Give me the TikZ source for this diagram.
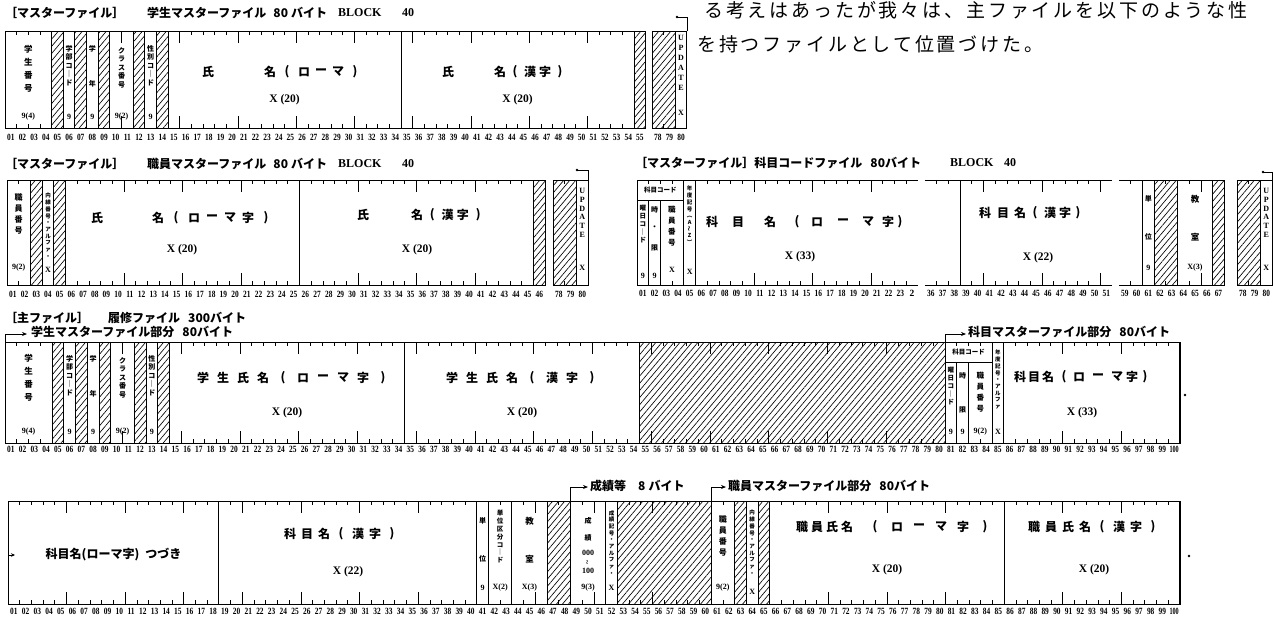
\documentclass[tikz,border=0pt]{standalone}
\usepackage{fontspec}
\setmainfont{Liberation Serif}
\newfontfamily\jp{Noto Sans CJK JP}
\usetikzlibrary{patterns.meta,arrows.meta}
\newcounter{nd}
\newcommand\lp{(}
\newcommand\rp{)}
\newcommand\segbegin[4]{\pgfmathsetmacro\sx{#1-(#2-1)*#3}\begin{scope}[shift={(\sx pt,-#4 pt)},x=#3pt,y=-1pt]}
\newcommand\segend{\end{scope}}
\newcommand\tks[2]{%
  \pgfmathtruncatemacro\tka{#1}%
  \pgfmathtruncatemacro\tkb{#2-1}%
  \ifnum\tkb<\tka\relax\else
    \foreach \bb in {\tka,...,\tkb}{%
      \pgfmathsetmacro\tklen{mod(\bb,5)==0?12:4}%
      \draw[tk] (\bb,0) -- (\bb,\tklen) (\bb,\RH) -- (\bb,{\RH-\tklen});}%
  \fi}
\newcommand\fld[2]{\draw[bx] ({#1-1},0) rectangle (#2,\RH);\tks{#1}{#2}}
\newcommand\hfld[2]{\fill[hat] ({#1-1},0) rectangle (#2,\RH);\draw[bx] ({#1-1},0) rectangle (#2,\RH);\tks{#1}{#2}}
\newcommand\nums[3]{\foreach \cc in {#1,...,#2}{\stepcounter{nd}\node[num] (m\arabic{nd}) at ({\cc-0.5},#3) {\scalebox{0.78}[1]{\ifnum\cc<10 0\fi\cc}};}}
\newcommand\spc[5]{\foreach \ch [count=\i from 0] in {#5}{\node[lb] (#1-\i) at ({#2+\i*#4},#3) {\ch};}}
\newcommand\spx[3]{\foreach \xx/\ch [count=\i] in {#3}{\node[lb] (#1-\i) at (\xx,#2) {\ch};}}
\begin{document}
\begin{tikzpicture}[x=1pt,y=-1pt,
  bx/.style={line width=1pt},
  tk/.style={line width=0.8pt},
  cn/.style={line width=0.9pt},
  hat/.style={pattern={Lines[angle=50,distance=4.6pt,line width=0.65pt]}},
  num/.style={inner sep=0pt,font=\bfseries\fontsize{9.5}{9.5}\selectfont},
  lb/.style={inner sep=0pt,font=\jp\bfseries\fontsize{12}{12}\selectfont},
  vm/.style={inner sep=0pt,anchor=north,align=center,font=\jp\bfseries\fontsize{8.5}{13}\selectfont},
  vs/.style={inner sep=0pt,anchor=north,align=center,font=\jp\bfseries\fontsize{7}{8.5}\selectfont},
  vx/.style={inner sep=0pt,anchor=north,align=center,font=\jp\bfseries\fontsize{5.5}{6.7}\selectfont},
  vu/.style={inner sep=0pt,anchor=north,align=center,font=\bfseries\fontsize{8}{10}\selectfont},
  ty/.style={inner sep=0pt,font=\bfseries\fontsize{8}{8}\selectfont},
  xt/.style={inner sep=0pt,font=\bfseries\fontsize{11.5}{12}\selectfont},
  ttl/.style={inner sep=0pt,anchor=west,font=\jp\bfseries\fontsize{12}{13}\selectfont},
  bt/.style={inner sep=0pt,font=\bfseries\fontsize{12}{12}\selectfont},
  para/.style={inner sep=0pt,anchor=west,font=\jp\fontsize{19}{19}\selectfont\addfontfeature{LetterSpace=15}},
  hd/.style={inner sep=0pt,font=\jp\bfseries\fontsize{6.5}{7}\selectfont},
  ar/.style={cn,-{Stealth[length=5pt,width=4pt]}}
]
\fill[white] (0,0) rectangle (1273,616);
\useasboundingbox (0,0) rectangle (1273,616);

% ---------- top right paragraph ----------
\node[para] (p1) at (704,10.5) {る考えはあったが我々は、主ファイルを以下のような性};
\node[para] (p2) at (697,44) {を持つファイルとして位置づけた。};

% ---------- titles ----------
\node[ttl] (t1a) at (5,13) {［マスターファイル］};
\node[ttl] (t1b) at (147,13) {学生マスターファイル\hspace{7pt}80\hspace{3pt}バイト};
\node[bt,anchor=west] (t1c) at (338,13) {BLOCK};
\node[bt] (t1d) at (408,13) {40};
\node[ttl] (t2a) at (5,164) {［マスターファイル］};
\node[ttl] (t2b) at (147,164) {職員マスターファイル\hspace{7pt}80\hspace{3pt}バイト};
\node[bt,anchor=west] (t2c) at (338,164) {BLOCK};
\node[bt] (t2d) at (408,164) {40};
\node[ttl] (t3a) at (635,163) {［マスターファイル］科目コードファイル\hspace{8pt}80バイト};
\node[bt,anchor=west] (t3c) at (950,163) {BLOCK};
\node[bt] (t3d) at (1010,163) {40};
\node[ttl] (t4a) at (5,318) {［主ファイル］};
\node[ttl] (t4b) at (108,318) {履修ファイル\hspace{8pt}300バイト};
\node[ttl] (t4c) at (31,332) {学生マスターファイル部分\hspace{8pt}80バイト};
\node[ttl] (t4d) at (968,332) {科目マスターファイル部分\hspace{8pt}80バイト};
\node[ttl] (t5a) at (590,486) {成績等\hspace{12pt}8\hspace{3pt}バイト};
\node[ttl] (t5b) at (728,486) {職員マスターファイル部分\hspace{8pt}80バイト};

% ================= ROW 1 =================
\def\RH{97}
\segbegin{5}{1}{11.65}{31}
 \fld{1}{4}\hfld{5}{5}\fld{6}{6}\hfld{7}{7}\fld{8}{8}\hfld{9}{9}\fld{10}{11}\hfld{12}{12}\fld{13}{13}\hfld{14}{14}
 \fld{15}{34}\fld{35}{54}\hfld{55}{55}
 \nums{1}{55}{106}
\segend
\segbegin{652}{78}{11.65}{31}
 \hfld{78}{79}\fld{80}{80}
 \nums{78}{80}{106}
\segend
\node[vm] (r1n1) at (28.3,45) {学\\生\\番\\号};
\node[ty] (r1t1) at (28.3,117) {9(4)};
\node[vs] (r1n2) at (69.1,45) {学\\部\\コ\\｜\\ド};
\node[ty] (r1t2) at (69.1,117) {9};
\node[vs] (r1n3) at (92.4,45) {学};
\node[vs] (r1n3b) at (92.4,80) {年};
\node[ty] (r1t3) at (92.4,117) {9};
\node[vs] (r1n4) at (121.5,47) {ク\\ラ\\ス\\番\\号};
\node[ty] (r1t4) at (121.5,117) {9(2)};
\node[vs] (r1n5) at (150.6,45) {性\\別\\コ\\｜\\ド};
\node[ty] (r1t5) at (150.6,117) {9};
\node[lb] (r1n6) at (208,72) {氏};
\spc{r1n7}{270}{72}{17}{名,\lp,ロ,ー,マ,\rp}
\node[xt] (r1x1) at (284.6,100) {X (20)};
\node[lb] (r1n8) at (448,72) {氏};
\spc{r1n9}{500}{72}{15}{名,\lp,漢,字,\rp}
\node[xt] (r1x2) at (517.6,100) {X (20)};
\node[vu] (r1u) at (681.1,35) {U\\P\\D\\A\\T\\E};
\node[ty] (r1ux) at (681.1,113) {X};
\coordinate (r1b0) at (686.95,31);
\coordinate (r1b1) at (677,17);
\draw[cn] (r1b0) |- (r1b1);
\fill (r1b1) circle (1.4);

% ================= ROW 2 left =================
\def\RH{105}
\segbegin{7}{1}{11.7}{180}
 \fld{1}{2}\hfld{3}{3}\fld{4}{4}\hfld{5}{5}\fld{6}{25}\fld{26}{45}\hfld{46}{46}
 \nums{1}{46}{114}
\segend
\segbegin{553}{78}{11.7}{180}
 \hfld{78}{79}\fld{80}{80}
 \nums{78}{80}{114}
\segend
\node[vm,font=\jp\bfseries\fontsize{8}{11}\selectfont] (r2n1) at (18.7,193) {職\\員\\番\\号};
\node[ty] (r2t1) at (18.7,268) {9(2)};
\node[vx] (r2n2) at (48,193) {内\\線\\番\\号\\・\\ア\\ル\\フ\\ァ\\・};
\node[ty] (r2t2) at (48,270) {X};
\node[lb] (r2n3) at (97,218) {氏};
\spc{r2n4}{158}{218}{18}{名,\lp,ロ,ー,マ,字,\rp}
\node[xt] (r2x1) at (182,250) {X (20)};
\node[lb] (r2n5) at (363,215) {氏};
\spc{r2n6}{417}{215}{15.3}{名,\lp,漢,字,\rp}
\node[xt] (r2x2) at (417,250) {X (20)};
\node[vu,font=\bfseries\fontsize{8}{8.8}\selectfont] (r2u) at (582.25,188) {U\\P\\D\\A\\T\\E};
\node[ty] (r2ux) at (582.25,268) {X};
\coordinate (r2b0) at (588.1,180);
\coordinate (r2b1) at (577,170);
\draw[cn] (r2b0) |- (r2b1);
\fill (r2b1) circle (1.4);

% ================= ROW 2 right =================
\segbegin{637}{1}{11.7}{180}
 \draw[bx] (0,0) rectangle (4,\RH);
 \draw[bx] (0,20) -- (4,20) (1,20) -- (1,\RH) (2,20) -- (2,\RH);
 \tks{1}{4}
 \fld{5}{5}
 \draw[bx] (24,0) -- (5,0) -- (5,\RH) -- (24,\RH);
 \tks{6}{24}
 \nums{1}{23}{113}
 \node[num] (m24r) at (23.5,113) {2};
\segend
\segbegin{925}{36}{11.7}{180}
 \draw[bx] (35,0) -- (38,0) -- (38,\RH) -- (35,\RH);
 \tks{36}{38}
 \draw[bx] (51,0) -- (38,0) (38,\RH) -- (51,\RH);
 \tks{39}{51}
 \nums{36}{51}{113}
\segend
\segbegin{1119}{59}{11.7}{180}
 \draw[bx] (58,0) -- (60,0) -- (60,\RH) -- (58,\RH);
 \tks{59}{60}
 \fld{61}{61}\hfld{62}{63}\fld{64}{66}\hfld{67}{67}
 \nums{59}{67}{113}
\segend
\segbegin{1237}{78}{11.7}{180}
 \hfld{78}{79}\fld{80}{80}
 \nums{78}{80}{113}
\segend
\node[hd] (r2k0) at (660.4,190) {科目コード};
\node[vx,font=\jp\bfseries\fontsize{6.5}{8}\selectfont] (r2k1) at (642.85,205) {曜\\日\\コ\\｜\\ド};
\node[ty] (r2k1t) at (642.85,276) {9};
\node[vs] (r2k2) at (654.55,206) {時};
\node[vs] (r2k2b) at (654.55,226) {・};
\node[vs] (r2k2c) at (654.55,245) {限};
\node[ty] (r2k2t) at (654.55,276) {9};
\node[vm,font=\jp\bfseries\fontsize{7.5}{11}\selectfont] (r2k3) at (671.9,206) {職\\員\\番\\号};
\node[ty] (r2k3t) at (671.9,270) {X};
\node[vx] (r2k4) at (689.65,186) {年\\度\\記\\号\\︵\\A\\\rotatebox{90}{～}\\Z\\︶};
\node[ty] (r2k4t) at (689.65,272) {X};
\spx{r2k5}{222}{712/科,738/目,770/名,797/\lp,817/ロ,843/ー,868/マ,888/字,900/\rp}
\node[xt] (r2k5x) at (800,257) {X (33)};
\spx{r2k6}{213}{985/科,1003/目,1020/名,1035/\lp,1050/漢,1065/字,1078/\rp}
\node[xt] (r2k6x) at (1038,258) {X (22)};
\node[vs] (r2k7) at (1148.25,195) {単};
\node[vs] (r2k7b) at (1148.25,233) {位};
\node[ty] (r2k7t) at (1148.25,268) {9};
\node[vm] (r2k8) at (1195,195) {教};
\node[vm] (r2k8b) at (1195,233) {室};
\node[ty] (r2k8t) at (1195,268) {X(3)};
\node[vu,font=\bfseries\fontsize{8}{8.8}\selectfont] (r2ku) at (1266.25,188) {U\\P\\D\\A\\T\\E};
\node[ty] (r2kux) at (1266.25,268) {X};
\coordinate (r2c0) at (1272.1,180);
\coordinate (r2c1) at (1263,172);
\draw[cn] (r2c0) |- (r2c1);
\fill (r2c1) circle (1.4);

% ================= ROW 3 =================
\def\RH{101}
\segbegin{5}{1}{11.75}{342}
 \fld{1}{4}\hfld{5}{5}\fld{6}{6}\hfld{7}{7}\fld{8}{8}\hfld{9}{9}\fld{10}{11}\hfld{12}{12}\fld{13}{13}\hfld{14}{14}
 \fld{15}{34}\fld{35}{54}\hfld{55}{80}
 \draw[bx] (80,0) rectangle (84,\RH);
 \draw[bx] (80,20) -- (84,20) (81,20) -- (81,\RH) (82,20) -- (82,\RH);
 \tks{81}{84}
 \fld{85}{85}\fld{86}{100}
 \draw[line width=1.8pt] (100,0) -- (100,\RH);
 \nums{1}{99}{107}
 \node[num] (m100a) at (99.5,107) {\scalebox{0.65}[1]{100}};
\segend
\node[vm] (r3n1) at (28.5,354) {学\\生\\番\\号};
\node[ty] (r3t1) at (28.5,432) {9(4)};
\node[vs] (r3n2) at (69.6,355) {学\\部\\コ\\｜\\ド};
\node[ty] (r3t2) at (69.6,432) {9};
\node[vs] (r3n3) at (93.1,355) {学};
\node[vs] (r3n3b) at (93.1,390) {年};
\node[ty] (r3t3) at (93.1,432) {9};
\node[vs] (r3n4) at (122.5,357) {ク\\ラ\\ス\\番\\号};
\node[ty] (r3t4) at (122.5,432) {9(2)};
\node[vs] (r3n5) at (151.9,355) {性\\別\\コ\\｜\\ド};
\node[ty] (r3t5) at (151.9,432) {9};
\spc{r3n6}{203}{378}{20}{学,生,氏,名,\lp,ロ,ー,マ,字,\rp}
\node[xt] (r3x1) at (287,413) {X (20)};
\spc{r3n7}{452}{378}{20}{学,生,氏,名,\lp,漢,字,\rp}
\node[xt] (r3x2) at (522,413) {X (20)};
\node[hd] (r3k0) at (968.5,352) {科目コード};
\node[vx,font=\jp\bfseries\fontsize{6.5}{8}\selectfont] (r3k1) at (950.9,367) {曜\\日\\コ\\｜\\ド};
\node[ty] (r3k1t) at (950.9,432) {9};
\node[vs] (r3k2) at (962.6,372) {時};
\node[vs] (r3k2b) at (962.6,407) {限};
\node[ty] (r3k2t) at (962.6,432) {9};
\node[vm,font=\jp\bfseries\fontsize{7.5}{11}\selectfont] (r3k3) at (980.25,372) {職\\員\\番\\号};
\node[ty] (r3k3t) at (980.25,432) {9(2)};
\node[vx] (r3k4) at (997.9,350) {年\\度\\記\\号\\・\\ア\\ル\\フ\\ァ};
\node[ty] (r3k4t) at (997.9,432) {X};
\spx{r3k5}{377}{1020/科,1034/目,1048/名,1064/\lp,1079/ロ,1098/ー,1117/マ,1132/字,1145/\rp}
\node[xt] (r3k5x) at (1082,413) {X (33)};
\coordinate (a3a) at (5,342);
\coordinate (a3b) at (27,334);
\draw[ar] (a3a) |- (a3b);
\coordinate (a3c) at (945,342);
\coordinate (a3d) at (966,334);
\draw[ar] (a3c) |- (a3d);
\coordinate (d3) at (1185,395);
\fill (d3) circle (1.3);

% ================= ROW 4 =================
\def\RH{103}
\segbegin{8}{1}{11.72}{501}
 \fld{1}{18}\fld{19}{40}\fld{41}{41}\fld{42}{43}\fld{44}{46}\hfld{47}{48}\fld{49}{51}\fld{52}{52}\hfld{53}{60}
 \fld{61}{62}\hfld{63}{63}\fld{64}{64}\hfld{65}{65}\fld{66}{85}\fld{86}{100}
 \draw[line width=1.8pt] (100,0) -- (100,\RH);
 \nums{1}{99}{110}
 \node[num] (m100b) at (99.5,110) {\scalebox{0.65}[1]{100}};
\segend
\node[lb] (r4n1) at (113.5,555) {科目名(ローマ字)\hspace{6pt}つづき};
\spx{r4n2}{534}{290/科,307/目,324/名,341/\lp,358/漢,375/字,392/\rp}
\node[xt] (r4x1) at (348,572) {X (22)};
\node[vs] (r4n3) at (482.6,517) {単};
\node[vs] (r4n3b) at (482.6,555) {位};
\node[ty] (r4t3) at (482.6,588) {9};
\node[vx,font=\jp\bfseries\fontsize{6.5}{7.8}\selectfont] (r4n4) at (500.2,510) {単\\位\\区\\分\\コ\\｜\\ド};
\node[ty] (r4t4) at (500.2,588) {X(2)};
\node[vm] (r4n5) at (529.5,517) {教};
\node[vm] (r4n5b) at (529.5,555) {室};
\node[ty] (r4t5) at (529.5,588) {X(3)};
\node[vs,font=\jp\bfseries\fontsize{7}{17}\selectfont] (r4n6) at (588.1,517) {成\\績};
\node[ty] (r4n6a) at (588.1,553) {000};
\node[ty] (r4n6b) at (588.1,562) {\rotatebox{90}{\textasciitilde}};
\node[ty] (r4n6c) at (588.1,571) {100};
\node[ty] (r4t6) at (588.1,588) {9(3)};
\node[vx] (r4n7) at (611.5,510) {成\\績\\記\\号\\・\\ア\\ル\\フ\\ァ\\・};
\node[ty] (r4t7) at (611.5,588) {X};
\node[vm,font=\jp\bfseries\fontsize{8}{11}\selectfont] (r4n8) at (722.9,515) {職\\員\\番\\号};
\node[ty] (r4t8) at (722.9,588) {9(2)};
\node[vx] (r4n9) at (752.2,510) {内\\線\\番\\号\\・\\ア\\ル\\フ\\ァ\\・};
\node[ty] (r4t9) at (752.2,592) {X};
\spx{r4n10}{527}{802/職,817/員,832/氏,847/名,875/\lp,897/ロ,919/ー,941/マ,963/字,985/\rp}
\node[xt] (r4x2) at (887,570) {X (20)};
\spx{r4n11}{527}{1034/職,1051/員,1068/氏,1085/名,1102/\lp,1119/漢,1136/字,1153/\rp}
\node[xt] (r4x3) at (1094,570) {X (20)};
\coordinate (a4a) at (570.6,501);
\coordinate (a4b) at (588,487);
\draw[ar] (a4a) |- (a4b);
\coordinate (a4c) at (711.2,501);
\coordinate (a4d) at (726,487);
\draw[ar] (a4c) |- (a4d);
\coordinate (l4a) at (8,555);
\coordinate (l4b) at (15,555);
\draw[cn,-{Stealth[length=4pt,width=3.5pt]}] (l4a) -- (l4b);
\coordinate (d4) at (1189,556);
\fill (d4) circle (1.3);
\end{tikzpicture}
\end{document}
